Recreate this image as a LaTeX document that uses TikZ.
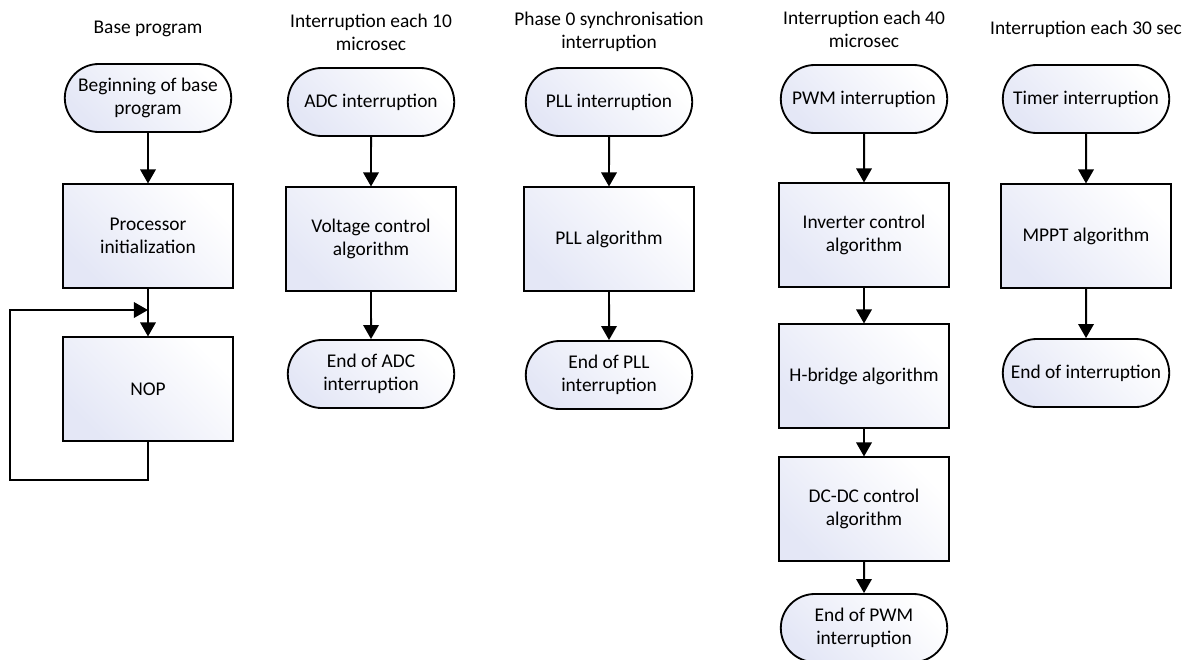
\documentclass[tikz,border=0pt]{standalone}
\usepackage{fontspec}
\setmainfont{Carlito}
\usetikzlibrary{shapes.misc,arrows.meta}

\definecolor{lav}{RGB}{228,231,246}

\begin{document}
\begin{tikzpicture}[x=0.025cm, y=-0.025cm,
    font=\fontsize{13.8}{16.5}\selectfont,
    shadebox/.style={draw=black, line width=1.3pt, top color=lav, bottom color=white, shading angle=135},
    terminal/.style={shadebox, rounded rectangle, minimum width=4.3cm, minimum height=1.7cm, align=center, inner sep=2pt},
    process/.style={shadebox, rectangle, minimum width=4.25cm, minimum height=2.58cm, align=center},
    title/.style={align=center},
    arr/.style={line width=1.4pt, -{Triangle[width=11pt,length=10pt]}}]
    \useasboundingbox (0,0) rectangle (1187,659);

    % Base program
    \node[title] (t1) at (148,29) {Base program};
    \node[terminal] (start) at (148,98) {Beginning of base\\program};
    \node[process] (init) at (148,236) {Processor\\initialization};
    \node[process] (nop) at (148,389) {NOP};
    \coordinate (loopin) at (148,310);
    \coordinate (loopcorner) at (10,480);
    \draw[arr] (start) -- (init);
    \draw[arr] (init) -- (nop);
    \draw[arr] (nop.south) |- (loopcorner) |- (loopin);

    % ADC interruption, each 10 microsec
    \node[title] (t2) at (371,32) {Interruption each 10\\microsec};
    \node[terminal] (adc) at (371,102) {ADC interruption};
    \node[process] (volt) at (371,239) {Voltage control\\algorithm};
    \node[terminal] (adcend) at (371,374) {End of ADC\\interruption};
    \draw[arr] (adc) -- (volt);
    \draw[arr] (volt) -- (adcend);

    % PLL interruption
    \node[title] (t3) at (609,32) {Phase 0 synchronisation\\interruption};
    \node[terminal] (pll) at (609,102) {PLL interruption};
    \node[process] (pllalg) at (609,239) {PLL algorithm};
    \node[terminal] (pllend) at (609,375) {End of PLL\\interruption};
    \draw[arr] (pll) -- (pllalg);
    \draw[arr] (pllalg) -- (pllend);

    % PWM interruption, each 40 microsec
    \node[title] (t4) at (864,29) {Interruption each 40\\microsec};
    \node[terminal] (pwm) at (864,99) {PWM interruption};
    \node[process] (inv) at (864,235) {Inverter control\\algorithm};
    \node[process] (hbr) at (864,376) {H-bridge algorithm};
    \node[process] (dcdc) at (864,509) {DC-DC control\\algorithm};
    \node[terminal] (pwmend) at (864,628) {End of PWM\\interruption};
    \draw[arr] (pwm) -- (inv);
    \draw[arr] (inv) -- (hbr);
    \draw[arr] (hbr) -- (dcdc);
    \draw[arr] (dcdc) -- (pwmend);

    % Timer interruption, each 30 sec
    \node[title] (t5) at (1086,29) {Interruption each 30 sec};
    \node[terminal] (timer) at (1086,99) {Timer interruption};
    \node[process] (mppt) at (1086,236) {MPPT algorithm};
    \node[terminal] (timend) at (1086,373) {End of interruption};
    \draw[arr] (timer) -- (mppt);
    \draw[arr] (mppt) -- (timend);
\end{tikzpicture}
\end{document}
